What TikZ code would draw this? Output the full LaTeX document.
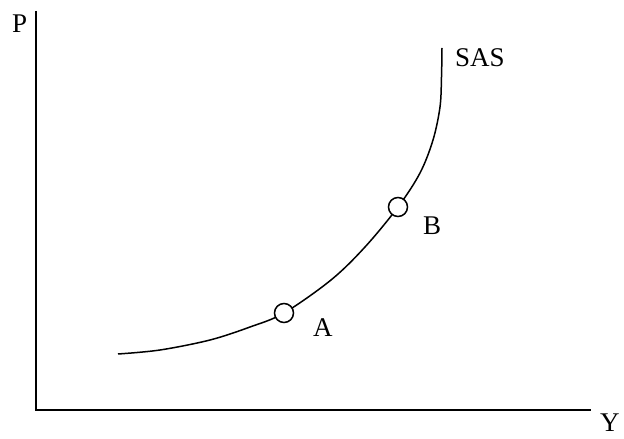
\documentclass[tikz,border=0pt]{standalone}
\usepackage{fontspec}
\setmainfont{Liberation Serif}
\begin{document}
\begin{tikzpicture}[x=1pt,y=1pt,
  axis/.style={line width=1.7pt},
  curve/.style={line width=1.5pt},
  pt/.style={circle, draw, line width=1.5pt, fill=white, minimum size=19pt, inner sep=0pt},
  lbl/.style={font=\fontsize{27}{30}\selectfont, inner sep=0pt, anchor=base west}]
\useasboundingbox (0,0) rectangle (624,439);
\coordinate (O) at (36,29);
\coordinate (Ptop) at (36,428);
\coordinate (Yend) at (591,29);
\draw[axis] (Ptop) -- (O) -- (Yend);
\coordinate (cA) at (284,126);
\coordinate (cB) at (398,232);
\draw[curve] plot[smooth, tension=0.55] coordinates {(118,85) (160,89) (210,99) (250,112) (284,126) (331,159) (365,192) (398,232) (420,266) (433,299) (440,332) (441.5,362) (442,391)};
\node[pt] (A) at (cA) {};
\node[pt] (B) at (cB) {};
\node[lbl] (Pl) at (12,406) {P};
\node[lbl] (Yl) at (600,7) {Y};
\node[lbl] (Al) at (313,102) {A};
\node[lbl] (Bl) at (423,204) {B};
\node[lbl] (SASl) at (455,372) {SAS};
\end{tikzpicture}
\end{document}
